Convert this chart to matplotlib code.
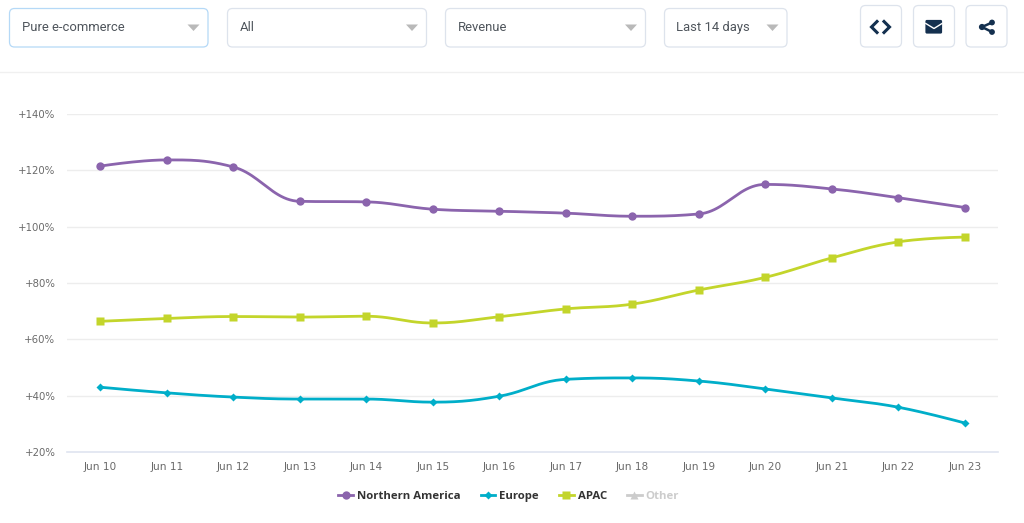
import matplotlib
matplotlib.use("Agg")
import matplotlib.pyplot as plt
from matplotlib.patches import FancyBboxPatch, Polygon, Circle
from matplotlib.lines import Line2D
import numpy as np

W, H = 1024, 523
days = ["Jun 10","Jun 11","Jun 12","Jun 13","Jun 14","Jun 15","Jun 16","Jun 17","Jun 18","Jun 19","Jun 20","Jun 21","Jun 22","Jun 23"]
northern_america = [121.5,123.7,121.2,109.0,108.8,106.2,105.5,104.8,103.7,104.5,115.0,113.4,110.3,106.8]
europe = [43.0,41.0,39.5,38.8,38.8,37.7,39.8,45.8,46.3,45.2,42.4,39.2,35.9,30.3]
apac = [66.4,67.4,68.1,67.9,68.2,65.8,68.0,70.8,72.5,77.5,82.0,88.9,94.6,96.3]
y_ticks = [20,40,60,80,100,120,140]
dropdowns = ["Pure e-commerce","All","Revenue","Last 14 days"]

PURPLE="#8b64ad"; CYAN="#00aec9"; LIME="#c3d52b"; GRAY="#cccccc"; NAVY="#14304f"

def spline(xs, ys, n=24, smoothing=1.5):
    """Highcharts-style spline through the points."""
    N=len(xs); d=smoothing+1
    L=[None]*N; R=[None]*N
    for i in range(1,N-1):
        x,y=xs[i],ys[i]
        lx=(smoothing*x+xs[i-1])/d; ly=(smoothing*y+ys[i-1])/d
        rx=(smoothing*x+xs[i+1])/d; ry=(smoothing*y+ys[i+1])/d
        c=(ry-ly)*(rx-x)/(rx-lx)+y-ry
        ly+=c; ry+=c
        if ly>ys[i-1] and ly>y:
            ly=max(ys[i-1],y); ry=2*y-ly
        elif ly<ys[i-1] and ly<y:
            ly=min(ys[i-1],y); ry=2*y-ly
        if ry>ys[i+1] and ry>y:
            ry=max(ys[i+1],y); ly=2*y-ry
        elif ry<ys[i+1] and ry<y:
            ry=min(ys[i+1],y); ly=2*y-ry
        L[i]=(lx,ly); R[i]=(rx,ry)
    L[N-1]=(xs[-1],ys[-1]); R[0]=(xs[0],ys[0])
    X=[];Y=[]
    t=np.linspace(0,1,n)
    for i in range(N-1):
        p0=(xs[i],ys[i]);p1=R[i];p2=L[i+1];p3=(xs[i+1],ys[i+1])
        X.extend((1-t)**3*p0[0]+3*(1-t)**2*t*p1[0]+3*(1-t)*t**2*p2[0]+t**3*p3[0])
        Y.extend((1-t)**3*p0[1]+3*(1-t)**2*t*p1[1]+3*(1-t)*t**2*p2[1]+t**3*p3[1])
    return X,Y

fig=plt.figure(figsize=(W/100,H/100),dpi=100,facecolor="white")

# page furniture, in pixel coordinates
ui=fig.add_axes([0,0,1,1]); ui.set_xlim(0,W); ui.set_ylim(H,0); ui.axis("off")
ui.plot([0,W],[71.5,71.5],color="#f0f0f0",lw=1)

def box(x0,y0,x1,y1,ec="#dde3ec"):
    ui.add_patch(FancyBboxPatch((x0+5,y0+5),x1-x0-10,y1-y0-10,boxstyle="round,pad=5,rounding_size=5",
                                fc="white",ec=ec,lw=0.9))
boxes=[(9.5,8.5,208,47,"#b5d9f7"),(227.5,8.5,426.5,47,"#dde3ec"),(445.5,8.5,645.5,47,"#dde3ec"),(664.5,8.5,787,47,"#dde3ec")]
for (x0,y0,x1,y1,ec),label in zip(boxes,dropdowns):
    box(x0,y0,x1,y1,ec)
    ui.text(x0+12,27.5,label,family="Roboto",fontsize=9.35,color="#4f555c",va="center",ha="left")
    ax_=x1-14.5
    ui.add_patch(Polygon([(ax_-6,24.5),(ax_+6,24.5),(ax_,31)],fc="#b9b9b9",ec="none"))
for x0 in (860.5,913.5,966):
    box(x0,5.5,x0+41,47)
# code icon
ui.plot([877,871.5,877],[21.5,27,32.5],color=NAVY,lw=2.2,solid_joinstyle="miter")
ui.plot([884,889.5,884],[21.5,27,32.5],color=NAVY,lw=2.2,solid_joinstyle="miter")
# mail icon
ui.add_patch(FancyBboxPatch((926,20.5),15.5,12.5,boxstyle="round,pad=0.6,rounding_size=1.5",fc=NAVY,ec="none"))
ui.plot([925.8,934,942],[23.5,28.5,23.5],color="white",lw=1)
# share icon
ui.plot([992,982,992],[22.5,27,32],color=NAVY,lw=1.8)
for cx,cy,r in ((992,22.5,2.9),(982,27,3.1),(992,32,2.9)):
    ui.add_patch(Circle((cx,cy),r,fc=NAVY,ec="none"))

# chart
ax=fig.add_axes([67/W,1-452/H,(998-67)/W,(452-114)/H])
ax.patch.set_alpha(0)
ax.set_xlim(-0.5,13.5); ax.set_ylim(20,140)
x=np.arange(len(days))
series=[("Northern America",northern_america,PURPLE,"o",6.0),("Europe",europe,CYAN,"D",3.6),("APAC",apac,LIME,"s",5.6)]
handles=[]
for name,vals,col,mk,ms in series:
    sx,sy=spline(list(map(float,x)),vals)
    ax.plot(sx,sy,color=col,lw=2,zorder=3,solid_capstyle="round")
    ax.plot(x,vals,ls="none",marker=mk,ms=ms,color=col,mec="none",zorder=4)
    handles.append(Line2D([],[],color=col,lw=2,marker=mk,ms=ms,mec="none",label=name))
handles.append(Line2D([],[],color=GRAY,lw=2,marker="^",ms=5.5,mec="none",label="Other"))

ax.set_xticks(x,days); ax.set_yticks(y_ticks,[f"+{v}%" for v in y_ticks])
ax.grid(axis="y",color="#ededed",lw=1); ax.set_axisbelow(True)
for s in ("top","left","right"): ax.spines[s].set_visible(False)
ax.spines["bottom"].set_color("#dfe4f0"); ax.spines["bottom"].set_linewidth(1.2)
ax.tick_params(axis="both",length=0,labelcolor="#6a6a6a")
ax.tick_params(axis="x",pad=7,labelsize=7.6); ax.tick_params(axis="y",pad=8.4,labelsize=7.3)
ax.get_ygridlines()[0].set_visible(False)

leg=ax.legend(handles=handles,ncol=4,frameon=False,loc="center",bbox_to_anchor=(0.4745,-0.1317),
              handlelength=1.3,handletextpad=0.35,columnspacing=1.75,
              prop={"family":"Open Sans","weight":"bold","size":8.2},labelcolor="#333333")
leg.get_texts()[3].set_color(GRAY)

fig.savefig("out.png",dpi=100)
